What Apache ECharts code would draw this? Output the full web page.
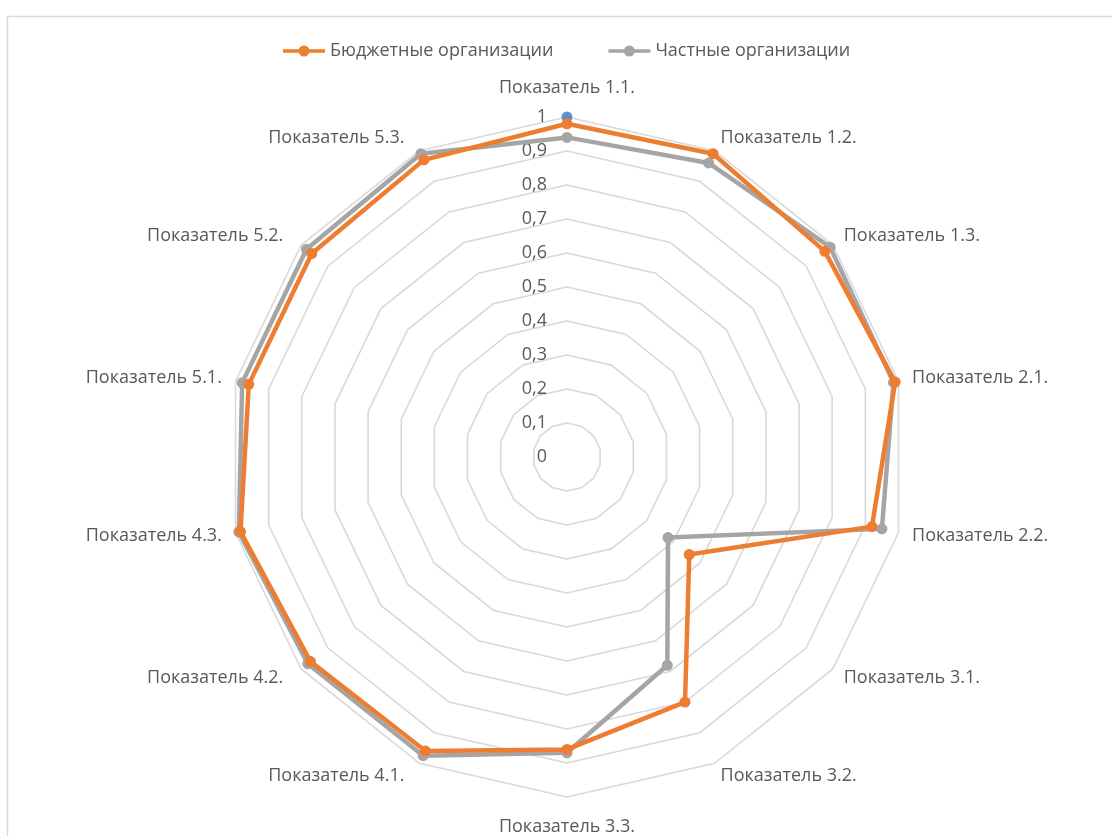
<!DOCTYPE html>
<html>
<head>
<meta charset="utf-8">
<script src="https://cdn.jsdelivr.net/npm/echarts@6/dist/echarts.min.js"></script>
<style>
html,body{margin:0;padding:0;background:#fff;}
#chart{width:1112px;height:836px;}
</style>
</head>
<body>
<div id="chart"></div>
<script>
const categories = ['Показатель 1.1.','Показатель 1.2.','Показатель 1.3.','Показатель 2.1.','Показатель 2.2.','Показатель 3.1.','Показатель 3.2.','Показатель 3.3.','Показатель 4.1.','Показатель 4.2.','Показатель 4.3.','Показатель 5.1.','Показатель 5.2.','Показатель 5.3.'];
const budgetValues = [0.98, 0.99, 0.97, 0.99, 0.92, 0.46, 0.80, 0.86, 0.96, 0.965, 0.985, 0.96, 0.96, 0.97];
const privateValues = [0.94, 0.96, 0.99, 0.985, 0.95, 0.38, 0.68, 0.87, 0.975, 0.975, 0.99, 0.98, 0.98, 0.99];
const markerValue = 1; // blue marker on Показатель 1.1.
const seriesNames = ['Бюджетные организации', 'Частные организации'];

const FONT = 'Open Sans';
const TXT = '#595959';
const FS = 18;

// label style key per category (layout tweaks only)
const nameStyleKey = {
  'Показатель 1.1.': 'top', 'Показатель 3.3.': 'bottom',
  'Показатель 4.1.': 'farLeft', 'Показатель 5.3.': 'farLeft',
  'Показатель 4.2.': 'midLeft', 'Показатель 5.2.': 'midLeft'
};

// ECharts radar goes counter-clockwise; reorder so it reads clockwise from the top.
const order = [0].concat(categories.map((_, i) => i).slice(1).reverse());
const reorder = arr => order.map(i => arr[i]);

const indicators = order.map((i, k) => {
  const ind = { name: categories[i], min: 0, max: 1 };
  if (k === 0) {
    ind.axisLabel = {
      show: true, color: TXT, fontFamily: FONT, fontSize: FS,
      formatter: v => String(Math.round(v * 10) / 10).replace('.', ','),
      margin: 20, showMinLabel: true, showMaxLabel: true
    };
  }
  return ind;
});

const legendIcon = 'path://M0,4.2H16V7.8H0Z M26,4.2H42V7.8H26Z M15.5,6A5.5,5.5 0 1 1 26.5,6A5.5,5.5 0 1 1 15.5,6Z';

const chart = echarts.init(document.getElementById('chart'));
chart.setOption({
  backgroundColor: '#fff',
  animation: false,
  graphic: [{
    type: 'rect', left: 5, top: 14, shape: { width: 1130, height: 840 },
    style: { fill: 'none', stroke: '#d9d9d9', lineWidth: 1.5 }, silent: true, z: -10
  }],
  legend: {
    top: 37, left: 278, itemWidth: 42, itemHeight: 12, itemGap: 55,
    icon: legendIcon,
    textStyle: { color: TXT, fontFamily: FONT, fontSize: FS },
    data: seriesNames
  },
  radar: {
    center: [567, 457], radius: 340, startAngle: 90, splitNumber: 10,
    shape: 'polygon', nameGap: 14,
    axisName: {
      color: TXT, fontFamily: FONT, fontSize: FS,
      formatter: name => nameStyleKey[name] ? '{' + nameStyleKey[name] + '|' + name + '}' : name,
      rich: {
        top: { color: TXT, fontFamily: FONT, fontSize: FS, padding: [0, 0, 6, 0] },
        bottom: { color: TXT, fontFamily: FONT, fontSize: FS, padding: [7, 0, 0, 0] },
        farLeft: { color: TXT, fontFamily: FONT, fontSize: FS, padding: [0, 9, 0, 0] },
        midLeft: { color: TXT, fontFamily: FONT, fontSize: FS, padding: [0, 7, 0, 0] }
      }
    },
    axisLine: { show: false }, axisTick: { show: false },
    axisLabel: { show: false },
    splitLine: { lineStyle: { color: '#d9d9d9', width: 1.6 } },
    splitArea: { show: false },
    indicator: indicators
  },
  polar: { center: [567, 457], radius: 340 },
  angleAxis: {
    type: 'category', data: categories, startAngle: 90, clockwise: true,
    boundaryGap: false, show: false
  },
  radiusAxis: { min: 0, max: 1, show: false },
  series: [
    {
      name: seriesNames[0], type: 'radar', symbol: 'circle', symbolSize: 11,
      lineStyle: { color: '#ED7D31', width: 4.5 }, itemStyle: { color: '#ED7D31' },
      data: [{ value: reorder(budgetValues), name: seriesNames[0] }], z: 3
    },
    {
      name: seriesNames[1], type: 'radar', symbol: 'circle', symbolSize: 11,
      lineStyle: { color: '#A5A5A5', width: 4.5 }, itemStyle: { color: '#A5A5A5' },
      data: [{ value: reorder(privateValues), name: seriesNames[1] }], z: 2
    },
    {
      type: 'scatter', coordinateSystem: 'polar', symbolSize: 11,
      itemStyle: { color: '#4472C4' }, z: 1,
      data: [[markerValue, categories[0]]]
    }
  ]
});
</script>
</body>
</html>
